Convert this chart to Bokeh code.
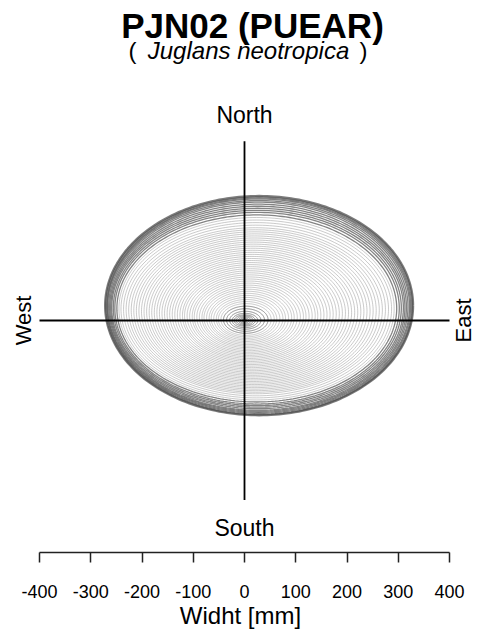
import numpy as np
from bokeh.plotting import figure
from bokeh.models import Range1d, FixedTicker
from bokeh.core.properties import value
from bokeh.embed import file_html
from bokeh.resources import INLINE

# ---------------- data ----------------
title_text = "PJN02 (PUEAR)"
species = "Juglans neotropica"
x_label = "Widht [mm]"
directions = ["North", "South", "West", "East"]
tick_values = [-400, -300, -200, -100, 0, 100, 200, 300, 400]
tick_labels = ["-400", "-300", "-200", "-100", "0", "100", "200", "300", "400"]

# cumulative ring radii (mm) from the pith in each direction
east = [3, 6, 9, 13, 17, 21, 26, 32, 39, 46,
        52, 58, 63, 69, 75, 80, 86, 92, 97, 103,
        109, 115, 120, 126, 132, 138, 143, 149, 155, 161,
        167, 173, 179, 185, 191, 197, 203, 209, 215, 221,
        227, 233, 239, 245, 251, 257, 263, 269, 275, 281,
        287, 292, 297, 302, 306, 310, 313, 316, 319, 322,
        324, 326, 328, 329]
west = [3, 6, 9, 12, 16, 20, 24, 29, 35, 41,
        46, 51, 55, 60, 65, 69, 74, 79, 83, 88,
        93, 98, 102, 107, 112, 117, 121, 126, 131, 136,
        141, 146, 151, 156, 161, 166, 171, 176, 181, 186,
        191, 196, 201, 206, 211, 216, 221, 226, 231, 236,
        241, 245, 249, 253, 256, 259, 261, 263, 265, 267,
        268, 269, 271, 272]
north = [2, 3, 5, 7, 9, 11, 14, 18, 23, 28,
         33, 37, 41, 45, 49, 53, 57, 61, 65, 69,
         73, 77, 81, 85, 89, 93, 97, 101, 105, 109,
         113, 117, 121, 125, 129, 133, 137, 141, 145, 149,
         153, 157, 161, 165, 169, 173, 177, 181, 186, 191,
         196, 201, 206, 211, 215, 219, 223, 227, 231, 234,
         237, 239, 241, 243]
south = [2, 3, 5, 7, 9, 11, 14, 17, 21, 25,
         29, 32, 35, 38, 41, 44, 47, 50, 53, 56,
         59, 62, 65, 68, 71, 74, 77, 80, 83, 86,
         89, 92, 95, 98, 101, 104, 107, 110, 113, 116,
         119, 122, 125, 128, 131, 134, 137, 140, 143, 147,
         151, 155, 159, 163, 166, 169, 172, 175, 177, 179,
         181, 183, 184, 185]

# ---------------- layout ----------------
W, FRAME_H, BOTTOM = 480, 552, 78
ORIGIN_PX_X, ORIGIN_PX_Y = 244, 320
k = 800.0 / 410.0  # mm per pixel

p = figure(width=W, frame_width=W, frame_height=FRAME_H,
           x_range=Range1d(-ORIGIN_PX_X * k, (W - ORIGIN_PX_X) * k),
           y_range=Range1d(-(FRAME_H - ORIGIN_PX_Y) * k, ORIGIN_PX_Y * k),
           output_backend="svg", toolbar_location=None,
           y_axis_location=None, x_axis_location="below",
           min_border_left=0, min_border_right=0, min_border_top=0,
           min_border_bottom=BOTTOM)
p.outline_line_color = None
p.xgrid.visible = False
p.ygrid.visible = False
p.background_fill_color = "white"
p.border_fill_color = "white"

# rings: eccentric ellipses through the four measured radii
theta = np.linspace(0, 2 * np.pi, 241)
c, s = np.cos(theta), np.sin(theta)
xs, ys, cols, widths = [], [], [], []
n = len(east)
for i in range(n):
    cx = (east[i] - west[i]) / 2.0
    cy = (north[i] - south[i]) / 2.0
    a = (east[i] + west[i]) / 2.0
    b = (north[i] + south[i]) / 2.0
    xs.append(list(cx + a * c))
    ys.append(list(cy + b * s))
    if i == n - 1:
        cols.append("#505050"); widths.append(2.2)
    elif i >= n - 12:
        cols.append("#5a5a5a"); widths.append(1.3)
    elif i < 10:
        cols.append("#6a6a6a"); widths.append(1.0)
    else:
        cols.append("#a6a6a6"); widths.append(0.8)
p.multi_line(xs=xs, ys=ys, line_color=cols, line_width=widths, line_alpha=0.75)

# cross
p.segment(x0=[-400, 0], y0=[0, -350], x1=[400, 0], y1=[0, 350],
          line_color="black", line_width=1.8)

font = value("Liberation Sans")
# direction labels
p.text(x=[0], y=[(ORIGIN_PX_Y - 114) * k], text=[directions[0]], text_font=font,
       text_font_size="23px", text_align="center", text_baseline="middle", text_color="black")
p.text(x=[0], y=[(ORIGIN_PX_Y - 527) * k], text=[directions[1]], text_font=font,
       text_font_size="23px", text_align="center", text_baseline="middle", text_color="black")
p.text(x=[(23 - ORIGIN_PX_X) * k], y=[0], text=[directions[2]], text_font=font,
       text_font_size="22px", text_align="center", text_baseline="middle",
       angle=np.pi / 2, text_color="black")
p.text(x=[(463 - ORIGIN_PX_X) * k], y=[0], text=[directions[3]], text_font=font,
       text_font_size="22px", text_align="center", text_baseline="middle",
       angle=np.pi / 2, text_color="black")

# title & subtitle
p.text(x=[(252 - ORIGIN_PX_X) * k], y=[(ORIGIN_PX_Y - 25) * k], text=[title_text],
       text_font=font, text_font_size="35px", text_font_style="bold",
       text_align="center", text_baseline="middle", text_color="black")
sub_x = (248 - ORIGIN_PX_X) * k
sub_y = (ORIGIN_PX_Y - 50) * k
p.text(x=[sub_x], y=[sub_y], text=[species], text_font=font, text_font_size="24px",
       text_font_style="italic", text_align="center", text_baseline="middle", text_color="black")
p.text(x=[sub_x], y=[sub_y], text=["("], text_font=font, text_font_size="24px",
       text_align="right", text_baseline="middle", x_offset=-112, text_color="black")
p.text(x=[sub_x], y=[sub_y], text=[")"], text_font=font, text_font_size="24px",
       text_align="left", text_baseline="middle", x_offset=111, text_color="black")

# bottom axis
ax = p.xaxis[0]
ax.bounds = (tick_values[0], tick_values[-1])
ax.ticker = FixedTicker(ticks=tick_values)
ax.major_label_overrides = {v: l for v, l in zip(tick_values, tick_labels)}
ax.minor_tick_line_color = None
ax.major_tick_in = 0
ax.major_tick_out = 10
ax.axis_line_width = 1.5
ax.major_tick_line_width = 1.5
ax.axis_line_color = "#222222"
ax.major_tick_line_color = "#222222"
ax.major_label_standoff = 22
ax.major_label_text_font = "Liberation Sans"
ax.major_label_text_font_size = "18px"
ax.major_label_text_color = "black"
ax.axis_label = x_label
ax.axis_label_text_font = "Liberation Sans"
ax.axis_label_text_font_size = "24px"
ax.axis_label_text_font_style = "normal"
ax.axis_label_text_color = "black"
ax.axis_label_standoff = 1

open("out.html", "w").write(file_html(p, INLINE))
